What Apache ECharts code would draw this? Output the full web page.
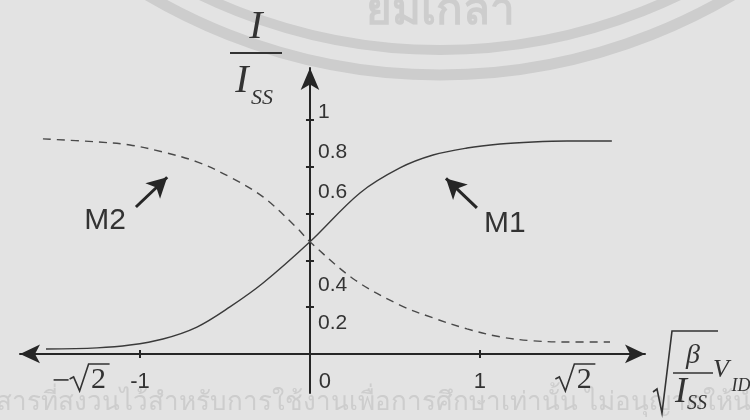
<!DOCTYPE html>
<html>
<head>
<meta charset="utf-8">
<script src="https://cdn.jsdelivr.net/npm/echarts@6/dist/echarts.min.js"></script>
<style>
  html, body { margin: 0; padding: 0; background: #e3e3e3; }
  #chart { width: 750px; height: 420px; }
</style>
</head>
<body>
<div id="chart"></div>
<script>
// Normalised differential input  x = sqrt(beta / I_SS) * V_ID
// Normalised drain currents I / I_SS of the two transistors of the pair
const m1X = [-1.553, -1.253, -1.059, -0.865, -0.665, -0.471, -0.276, 0, 0.294, 0.529, 0.724, 0.924, 1.118, 1.312, 1.512, 1.776];
const m1Y = [0.021, 0.026, 0.038, 0.064, 0.115, 0.201, 0.303, 0.479, 0.688, 0.795, 0.850, 0.880, 0.897, 0.906, 0.910, 0.910];
const m2X = [-1.571, -1.253, -1.059, -0.865, -0.665, -0.471, -0.276, -0.076, 0, 0.265, 0.529, 0.724, 0.924, 1.118, 1.312, 1.512, 1.765];
const m2Y = [0.919, 0.906, 0.893, 0.863, 0.821, 0.756, 0.671, 0.538, 0.479, 0.316, 0.209, 0.154, 0.107, 0.073, 0.056, 0.051, 0.051];

// Axis ticks and labels
const xTickValues = [-1, 1];
const xLabelValues = [-1, 0, 1];
const xLabelTexts = ['-1', '0', '1'];
const rootValues = [-Math.SQRT2, Math.SQRT2];
const rootSigns = ['−', ''];
const yTickValues = [0.2, 0.4, 0.6, 0.8, 1];
const yLabelTexts = ['0.2', '0.4', '0.6', '0.8', '1'];

// Curve names and where their pointer arrows sit (data space)
const curveNames = ['M1', 'M2'];
const nameAt = [[1.147, 0.556], [-1.206, 0.568]];
const arrowFrom = [[0.982, 0.624], [-1.024, 0.628]];
const arrowTo = [[0.80, 0.75], [-0.84, 0.755]];

const INK = '#262626';
const TXT = '#333333';
const SANS = '"Liberation Sans", Arial, sans-serif';
const SERIF = '"Liberation Serif", "Times New Roman", serif';
const WMARK = '#cdcdcd';

// label nudges in px (style only): keeps the numbers clear of the curves
const yLabelNudge = [16, 25, -21, -15, -8];
const xLabelNudge = [0, 15, 0];
const rootNudge = [20, 25];

const chart = echarts.init(document.getElementById('chart'), null, { renderer: 'canvas' });

const xMin = -1.706, xMax = 1.971, yMin = -0.167, yMax = 1.222;

function pairs(xs, ys) { return xs.map((x, i) => [x, ys[i]]); }

const tickStyle = { color: INK, width: 2 };

const option = {
  backgroundColor: '#e3e3e3',
  animation: false,
  grid: { left: 20, right: 105, top: 68, bottom: 27 },
  xAxis: [
    {
      type: 'value', min: xMin, max: xMax, position: 'bottom',
      axisLine: { onZero: true, symbol: ['arrow', 'arrow'], symbolSize: [14, 20], lineStyle: { color: INK, width: 2 } },
      axisTick: { show: true, customValues: xTickValues, length: 4, lineStyle: tickStyle },
      axisLabel: { show: false },
      splitLine: { show: false }
    },
    {
      type: 'value', min: xMin, max: xMax, position: 'top',
      axisLine: { onZero: true, show: false },
      axisTick: { show: true, customValues: xTickValues, length: 4, lineStyle: tickStyle },
      axisLabel: { show: false },
      splitLine: { show: false }
    }
  ],
  yAxis: [
    {
      type: 'value', min: yMin, max: yMax, position: 'right',
      axisLine: { onZero: true, symbol: ['none', 'arrow'], symbolSize: [14, 22], lineStyle: { color: INK, width: 2 } },
      axisTick: { show: true, customValues: yTickValues, length: 4, lineStyle: tickStyle },
      axisLabel: { show: false },
      splitLine: { show: false }
    },
    {
      type: 'value', min: yMin, max: yMax, position: 'left',
      axisLine: { onZero: true, show: false },
      axisTick: { show: true, customValues: yTickValues, length: 4, lineStyle: tickStyle },
      axisLabel: { show: false },
      splitLine: { show: false }
    }
  ],
  series: [
    {
      name: curveNames[0], type: 'line', data: pairs(m1X, m1Y),
      smooth: 0.35, showSymbol: false, z: 3,
      lineStyle: { color: '#3a3a3a', width: 1.4 },
      markLine: {
        silent: true, symbol: ['none', 'arrow'], symbolSize: [16, 20],
        label: { show: false },
        lineStyle: { color: INK, width: 3, type: 'solid' },
        data: [[{ coord: arrowFrom[0] }, { coord: arrowTo[0] }]]
      }
    },
    {
      name: curveNames[1], type: 'line', data: pairs(m2X, m2Y),
      smooth: 0.35, showSymbol: false, z: 3,
      lineStyle: { color: '#4a4a4a', width: 1.4, type: [8, 6] },
      markLine: {
        silent: true, symbol: ['none', 'arrow'], symbolSize: [16, 20],
        label: { show: false },
        lineStyle: { color: INK, width: 3, type: 'solid' },
        data: [[{ coord: arrowFrom[1] }, { coord: arrowTo[1] }]]
      }
    }
  ]
};

chart.setOption(option);

// ---- text: tick labels, curve names, root labels, axis names, stamp ----
const px = (x, y) => chart.convertToPixel({ gridIndex: 0 }, [x, y]);
const g = [];

// stamp watermark behind everything
g.push({ type: 'circle', z: -10, silent: true, shape: { cx: 440, cy: -500, r: 575 }, style: { fill: 'none', stroke: WMARK, lineWidth: 11 } });
g.push({ type: 'circle', z: -10, silent: true, shape: { cx: 440, cy: -500, r: 550 }, style: { fill: 'none', stroke: WMARK, lineWidth: 10 } });
g.push({ type: 'text', z: -10, silent: true, x: 440, y: 12, style: { text: 'ยมเกล้า', font: 'bold 44px sans-serif', fill: WMARK, align: 'center', verticalAlign: 'middle' } });
g.push({ type: 'text', z: -10, silent: true, x: -45, y: 403, style: { text: 'เอกสารที่สงวนไว้สำหรับการใช้งานเพื่อการศึกษาเท่านั้น ไม่อนุญาตให้นำไปใช้ในเชิงพาณิชย์', font: '26px sans-serif', fill: WMARK, align: 'left', verticalAlign: 'middle' } });

// vertical-axis tick labels, to the right of the axis
const yAxisX = px(0, 0)[0];
yTickValues.forEach((v, i) => {
  const p = px(0, v);
  g.push({ type: 'text', x: yAxisX + 8, y: p[1] + yLabelNudge[i], style: { text: yLabelTexts[i], font: '21px ' + SANS, fill: TXT, align: 'left', verticalAlign: 'middle' } });
});

// horizontal-axis tick labels, below the axis
xLabelValues.forEach((v, i) => {
  const p = px(v, 0);
  g.push({ type: 'text', x: p[0] + xLabelNudge[i], y: p[1] + 28, style: { text: xLabelTexts[i], font: '22px ' + SANS, fill: TXT, align: 'center', verticalAlign: 'middle' } });
});

// curve names
curveNames.forEach((n, i) => {
  const p = px(nameAt[i][0], nameAt[i][1]);
  g.push({ type: 'text', x: p[0], y: p[1], style: { text: n, font: '30px ' + SANS, fill: TXT, align: 'center', verticalAlign: 'middle' } });
});

// ±sqrt(2) labels under the horizontal axis
rootValues.forEach((v, i) => {
  const p = px(v, 0);
  const cx = p[0] + rootNudge[i];
  const base = p[1] + 37;
  const kids = [
    { type: 'polyline', shape: { points: [[-20, -12], [-16, -14], [-10, 0], [-1, -27], [20, -27]] }, style: { stroke: TXT, lineWidth: 1.6, fill: 'none' } },
    { type: 'text', x: 9, y: -11, style: { text: '2', font: '30px ' + SERIF, fill: TXT, align: 'center', verticalAlign: 'middle' } }
  ];
  if (rootSigns[i]) {
    kids.push({ type: 'line', shape: { x1: -36, y1: -11, x2: -21, y2: -11 }, style: { stroke: TXT, lineWidth: 1.6 } });
  }
  g.push({ type: 'group', x: cx, y: base, children: kids });
});

// vertical axis name  I / I_SS
g.push({ type: 'text', x: 256, y: 27, style: { text: 'I', font: 'italic 40px ' + SERIF, fill: TXT, align: 'center', verticalAlign: 'middle' } });
g.push({ type: 'line', shape: { x1: 230, y1: 53, x2: 282, y2: 53 }, style: { stroke: TXT, lineWidth: 2 } });
g.push({ type: 'text', x: 242, y: 81, style: { text: 'I', font: 'italic 40px ' + SERIF, fill: TXT, align: 'center', verticalAlign: 'middle' } });
g.push({ type: 'text', x: 262, y: 98, style: { text: 'SS', font: 'italic 22px ' + SERIF, fill: TXT, align: 'center', verticalAlign: 'middle' } });

// horizontal axis name  sqrt(beta / I_SS) V_ID
g.push({ type: 'polyline', shape: { points: [[653, 392], [657, 389], [662, 413], [672, 331], [718, 331]] }, style: { stroke: TXT, lineWidth: 1.6, fill: 'none' } });
g.push({ type: 'text', x: 693, y: 356, style: { text: 'β', font: 'italic 28px ' + SERIF, fill: TXT, align: 'center', verticalAlign: 'middle' } });
g.push({ type: 'line', shape: { x1: 673, y1: 373, x2: 713, y2: 373 }, style: { stroke: TXT, lineWidth: 1.6 } });
g.push({ type: 'text', x: 681, y: 393, style: { text: 'I', font: 'italic 36px ' + SERIF, fill: TXT, align: 'center', verticalAlign: 'middle' } });
g.push({ type: 'text', x: 697, y: 404, style: { text: 'SS', font: 'italic 20px ' + SERIF, fill: TXT, align: 'center', verticalAlign: 'middle' } });
g.push({ type: 'text', x: 721, y: 370, style: { text: 'V', font: 'italic 26px ' + SERIF, fill: TXT, align: 'center', verticalAlign: 'middle' } });
g.push({ type: 'text', x: 741, y: 386, style: { text: 'ID', font: 'italic 18px ' + SERIF, fill: TXT, align: 'center', verticalAlign: 'middle' } });

chart.setOption({ graphic: g });
</script>
</body>
</html>
